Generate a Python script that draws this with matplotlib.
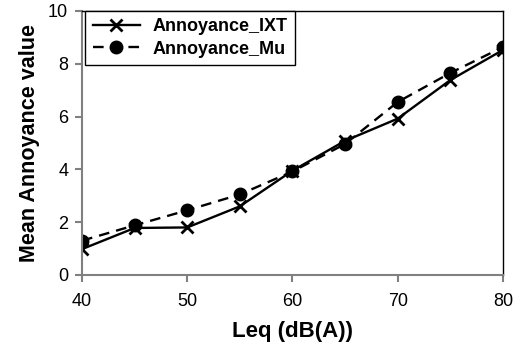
import matplotlib
matplotlib.use("Agg")
import matplotlib.pyplot as plt

leq = [40, 45, 50, 55, 60, 65, 70, 75, 80]
annoy_ixt = [0.98, 1.78, 1.8, 2.6, 3.95, 5.08, 5.92, 7.38, 8.52]
annoy_mu = [1.3, 1.88, 2.45, 3.05, 3.92, 4.96, 6.55, 7.65, 8.63]

plt.rcParams['font.family'] = ['Liberation Sans', 'DejaVu Sans']

fig = plt.figure(figsize=(5.26, 3.42), dpi=100)
ax = fig.add_axes([0.156, 0.196, 0.8, 0.772])

ax.plot(leq, annoy_ixt, color='black', linestyle='-', linewidth=1.7,
        marker='x', markersize=8, markeredgewidth=2, label='Annoyance_IXT')
ax.plot(leq, annoy_mu, color='black', linestyle=(0, (4.5, 3)), linewidth=1.7,
        marker='o', markersize=9, label='Annoyance_Mu')

ax.set_xlim(40, 80)
ax.set_ylim(0, 10)
ax.set_xticks(range(40, 81, 10))
ax.set_yticks(range(0, 11, 2))

# axes gris a sinistra/sotto, bordo nero dell'area sopra/destra
for side in ('left', 'bottom'):
    ax.spines[side].set_color('#808080')
    ax.spines[side].set_linewidth(1.5)
for side in ('top', 'right'):
    ax.spines[side].set_color('black')
    ax.spines[side].set_linewidth(1.0)
ax.tick_params(direction='out', length=5, width=1.5, color='#808080',
               labelsize=13, pad=5)
ax.tick_params(axis='x', pad=8)

ax.set_xlabel('Leq (dB(A))', fontsize=16, fontweight='bold', labelpad=8)
ax.set_ylabel('Mean Annoyance value', fontsize=15.5, fontweight='bold', labelpad=6)

leg = ax.legend(loc='upper left', bbox_to_anchor=(0.008, 1.0), fancybox=False,
                framealpha=1, edgecolor='black', prop={'weight': 'bold', 'size': 13},
                handlelength=2.6, handletextpad=0.7, borderpad=0.4,
                labelspacing=0.3, borderaxespad=0)
leg.get_frame().set_linewidth(1.0)

fig.savefig('out.png', dpi=100)
